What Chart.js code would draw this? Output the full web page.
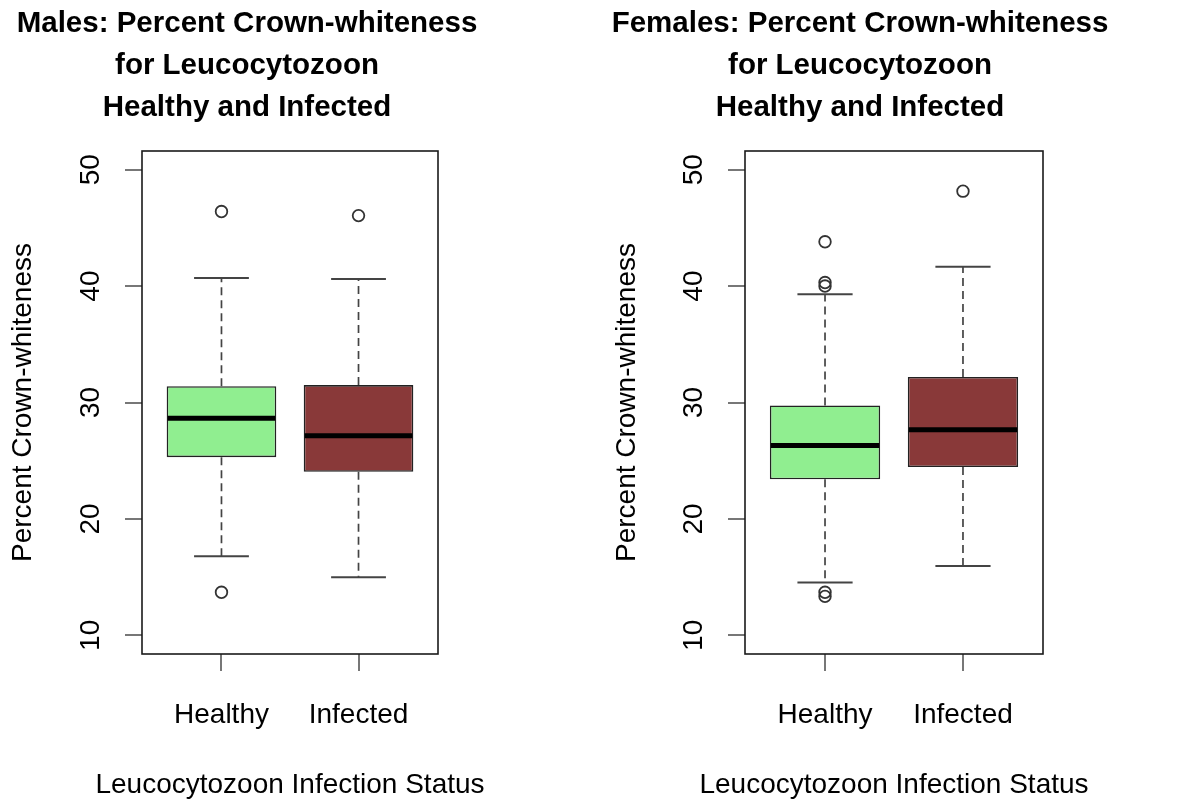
<!DOCTYPE html>
<html>
<head>
<meta charset="utf-8">
<title>Percent Crown-whiteness by Leucocytozoon infection status</title>
<script src="https://cdn.jsdelivr.net/npm/chart.js@4.4.1/dist/chart.umd.min.js"></script>
<style>
  html, body { margin: 0; padding: 0; background: #fff; }
  body { position: relative; width: 1189px; height: 801px; overflow: hidden; }
  canvas { position: absolute; top: 0; }
  #males { left: 0; }
  #females { left: 604px; }
</style>
</head>
<body>
<canvas id="males" width="494" height="801"></canvas>
<canvas id="females" width="512" height="801"></canvas>
<script>
const groups = ['Healthy', 'Infected'];
const yTicks = [10, 20, 30, 40, 50];
const boxColors = ['#90EE90', '#893939'];

// box statistics per group (Healthy, Infected)
const maleLower = [16.8, 15.0];
const maleQ1 = [25.3, 24.05];
const maleMedian = [28.65, 27.15];
const maleQ3 = [31.4, 31.5];
const maleUpper = [40.7, 40.6];
const maleOutliers = [[46.4, 13.7], [46.05]];

const femaleLower = [14.55, 15.95];
const femaleQ1 = [23.4, 24.45];
const femaleMedian = [26.3, 27.65];
const femaleQ3 = [29.75, 32.2];
const femaleUpper = [39.3, 41.65];
const femaleOutliers = [[43.8, 40.3, 40.0, 13.7, 13.35], [48.15]];

const xTitle = 'Leucocytozoon Infection Status';

Chart.defaults.font.family = "'Liberation Sans', Arial, sans-serif";
Chart.defaults.color = '#000';

const boxWidth = 0.8;     // in x units, like boxplot's default
const stapleWidth = 0.4;
const fontSize = 28;

// y range padded by 4% like base R graphics
const ySpan = yTicks[yTicks.length - 1] - yTicks[0];
const yMin = yTicks[0] - 0.04 * ySpan;
const yMax = yTicks[yTicks.length - 1] + 0.04 * ySpan;
const xMin = 0.5 - 0.04 * groups.length;
const xMax = groups.length + 0.5 + 0.04 * groups.length;

function segment(ctx, x1, y1, x2, y2) {
    ctx.beginPath();
    ctx.moveTo(x1, y1);
    ctx.lineTo(x2, y2);
    ctx.stroke();
}

// whiskers, staples, medians, the frame and the x axis title
function boxParts(stats) {
    return {
        id: 'boxParts',
        afterDatasetsDraw(chart) {
            const { ctx, chartArea, scales: { x, y } } = chart;
            ctx.save();
            groups.forEach((g, i) => {
                const cx = x.getPixelForValue(i + 1);
                ctx.strokeStyle = '#444';
                ctx.lineWidth = 1.7;
                ctx.setLineDash([8, 5]);
                segment(ctx, cx, y.getPixelForValue(stats.q3[i]), cx, y.getPixelForValue(stats.upper[i]));
                segment(ctx, cx, y.getPixelForValue(stats.q1[i]), cx, y.getPixelForValue(stats.lower[i]));
                ctx.setLineDash([]);
                ctx.lineWidth = 2;
                const sl = x.getPixelForValue(i + 1 - stapleWidth / 2);
                const sr = x.getPixelForValue(i + 1 + stapleWidth / 2);
                segment(ctx, sl, y.getPixelForValue(stats.upper[i]), sr, y.getPixelForValue(stats.upper[i]));
                segment(ctx, sl, y.getPixelForValue(stats.lower[i]), sr, y.getPixelForValue(stats.lower[i]));
                ctx.strokeStyle = '#000';
                ctx.lineWidth = 5;
                const my = y.getPixelForValue(stats.median[i]);
                segment(ctx, x.getPixelForValue(i + 1 - boxWidth / 2) + 1, my, x.getPixelForValue(i + 1 + boxWidth / 2) - 1, my);
            });
            ctx.strokeStyle = '#1a1a1a';
            ctx.lineWidth = 1.6;
            ctx.strokeRect(chartArea.left, chartArea.top, chartArea.right - chartArea.left, chartArea.bottom - chartArea.top);

            // axis title is wider than the plot, so it is drawn here without squeezing
            ctx.fillStyle = '#000';
            ctx.font = fontSize + "px 'Liberation Sans', Arial, sans-serif";
            ctx.textAlign = 'center';
            ctx.textBaseline = 'alphabetic';
            ctx.fillText(xTitle, (chartArea.left + chartArea.right) / 2, x.bottom - 8);
            ctx.restore();
        }
    };
}

function makePanel(id, titleLines, stats, yAxisWidth, rightGap) {
    const outlierPoints = [];
    stats.outliers.forEach((list, i) => list.forEach(v => outlierPoints.push({ x: i + 1, y: v })));

    new Chart(document.getElementById(id), {
        type: 'bar',
        data: {
            datasets: [{
                type: 'bar',
                data: groups.map((g, i) => ({ x: i + 1, y: [stats.q1[i], stats.q3[i]] })),
                backgroundColor: boxColors,
                borderColor: '#222',
                borderWidth: 1.6,
                borderSkipped: false,
                barPercentage: boxWidth,
                categoryPercentage: 1
            }, {
                type: 'scatter',
                data: outlierPoints,
                pointStyle: 'circle',
                pointRadius: 5.8,
                pointBorderWidth: 1.8,
                pointBorderColor: '#333',
                pointBackgroundColor: 'rgba(0,0,0,0)'
            }]
        },
        options: {
            responsive: false,
            animation: false,
            events: [],
            layout: { padding: 0 },
            plugins: {
                legend: { display: false },
                tooltip: { enabled: false },
                title: {
                    display: true,
                    text: titleLines,
                    color: '#000',
                    font: { size: 29.5, weight: 'bold', lineHeight: '42px' },
                    padding: { top: 3, bottom: 22 }
                }
            },
            scales: {
                x: {
                    type: 'linear',
                    min: xMin,
                    max: xMax,
                    offset: false,
                    afterBuildTicks: s => { s.ticks = groups.map((g, i) => ({ value: i + 1 })); },
                    afterFit: s => { s.height = 147; },
                    border: { display: false },
                    grid: { offset: false, drawOnChartArea: false, tickLength: 17, color: '#777', lineWidth: 2 },
                    ticks: {
                        autoSkip: false,
                        maxRotation: 0,
                        padding: 27,
                        font: { size: fontSize },
                        callback: (v, i) => groups[i]
                    }
                },
                y: {
                    min: yMin,
                    max: yMax,
                    afterBuildTicks: s => { s.ticks = yTicks.map(v => ({ value: v })); },
                    afterFit: s => { s.width = yAxisWidth; },
                    border: { display: false },
                    grid: { drawOnChartArea: false, tickLength: 17, color: '#777', lineWidth: 2 },
                    ticks: {
                        minRotation: 90,
                        maxRotation: 90,
                        crossAlign: 'center',
                        padding: 18.5,
                        font: { size: fontSize }
                    },
                    title: {
                        display: true,
                        text: 'Percent Crown-whiteness',
                        font: { size: fontSize },
                        padding: { top: 6.5, bottom: 0 }
                    }
                },
                // empty axis that keeps the right margin of the figure
                yGap: {
                    position: 'right',
                    display: true,
                    afterFit: s => { s.width = rightGap; },
                    grid: { display: false },
                    border: { display: false },
                    ticks: { display: false }
                }
            }
        },
        plugins: [boxParts(stats)]
    });
}

makePanel('males', ['Males: Percent Crown-whiteness', 'for Leucocytozoon', 'Healthy and Infected'], {
    lower: maleLower, q1: maleQ1, median: maleMedian, q3: maleQ3, upper: maleUpper, outliers: maleOutliers
}, 142, 56);

makePanel('females', ['Females: Percent Crown-whiteness', 'for Leucocytozoon', 'Healthy and Infected'], {
    lower: femaleLower, q1: femaleQ1, median: femaleMedian, q3: femaleQ3, upper: femaleUpper, outliers: femaleOutliers
}, 141, 73);
</script>
</body>
</html>
